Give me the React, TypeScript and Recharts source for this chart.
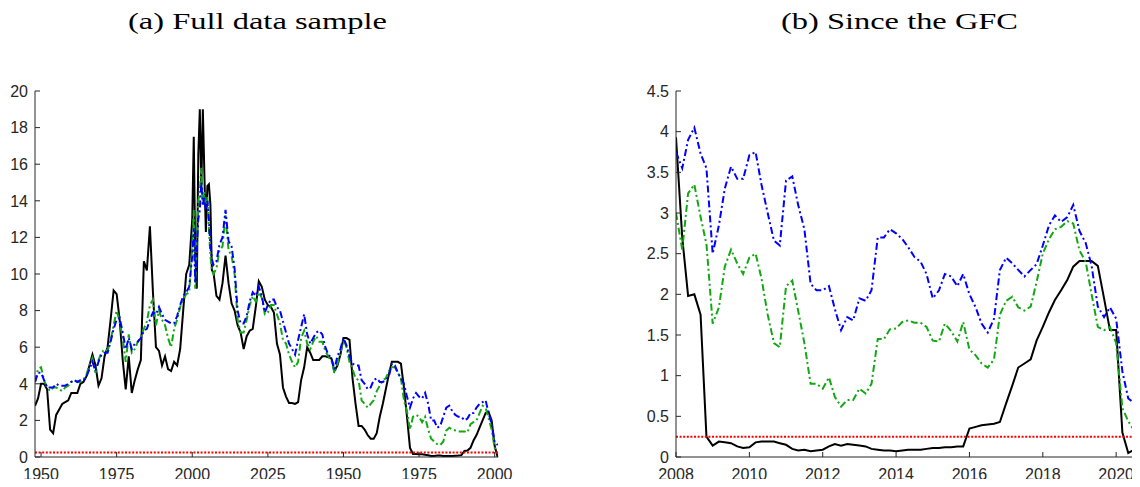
import { LineChart, Line, XAxis, YAxis, ReferenceLine } from "recharts";

// (a) full sample: x positions on the plotting scale (the printed tick labels repeat)
const yearsA = [
  1948, 1949, 1950, 1951, 1952, 1953, 1954, 1955, 1956, 1957,
  1958, 1959, 1960, 1961, 1962, 1963, 1964, 1965, 1966, 1967,
  1968, 1969, 1970, 1971, 1972, 1973, 1974, 1975, 1976, 1977,
  1978, 1979, 1980, 1981, 1982, 1983, 1984, 1985, 1986, 1987,
  1988, 1989, 1990, 1991, 1992, 1993, 1994, 1995, 1996, 1997,
  1998, 1999,
  2000, 2000.5, 2001, 2001.5, 2002, 2002.5, 2003, 2003.5, 2004, 2004.5, 2005, 2005.5, 2006, 2006.5,
  2007, 2008, 2009, 2010, 2011, 2012, 2013, 2014, 2015, 2016,
  2017, 2018, 2019, 2020, 2021, 2022, 2023, 2024, 2025, 2026,
  2027, 2028,
  2029, 2030, 2031, 2032, 2033, 2034, 2035, 2036, 2037, 2038,
  2039, 2040, 2041, 2042, 2043, 2044, 2045, 2046, 2047, 2048,
  2049, 2050, 2051, 2052, 2053, 2054, 2055, 2056, 2057, 2058,
  2059, 2060, 2061, 2062, 2063, 2064, 2065, 2066, 2067, 2068,
  2069, 2070, 2071, 2072, 2073, 2074, 2075, 2076, 2077, 2078,
  2079, 2080, 2081, 2082, 2083, 2084, 2085, 2086, 2087, 2088,
  2089, 2090, 2091, 2092, 2093, 2094, 2095, 2096, 2097, 2098,
  2099, 2100, 2101,
];

const rateA = [
  2.8, 3.2, 4.0, 4.0, 3.7, 1.5, 1.3, 2.3, 2.6, 2.9,
  3.0, 3.1, 3.5, 3.5, 3.5, 4.0, 4.1, 4.4, 5.0, 5.6,
  5.0, 3.9, 4.3, 5.5, 6.0, 7.5, 9.1, 8.9, 7.5, 5.3,
  3.7, 5.5, 3.5, 4.2, 4.8, 5.3, 10.7, 10.2, 12.6, 9.0,
  6.0, 5.8, 5.0, 5.5, 4.8, 4.7, 5.2, 5.0, 5.9, 8.0,
  10.0, 10.5,
  13.0, 17.5, 11.0, 9.2, 16.5, 19.0, 14.7, 19.0, 15.5, 12.3, 14.8, 14.9, 13.8, 10.2,
  10.1, 8.8, 8.6, 9.5, 11.0, 9.5, 8.4, 8.0, 7.2, 6.8,
  5.9, 6.6, 6.9, 7.0, 8.2, 9.6, 9.3, 8.6, 8.3, 8.2,
  7.9, 6.2,
  5.6, 3.8, 3.3, 2.95, 2.95, 2.9, 3.0, 4.2, 4.9, 6.0,
  5.7, 5.3, 5.3, 5.3, 5.5, 5.5, 5.45, 5.4, 4.7, 5.0,
  5.6, 6.5, 6.5, 6.4, 4.3, 2.9, 1.7, 1.7, 1.5, 1.2,
  1.0, 1.0, 1.3, 2.2, 2.9, 3.7, 4.5, 5.2, 5.2, 5.2,
  5.1, 3.8, 2.2, 0.5, 0.17, 0.17, 0.15, 0.15, 0.12, 0.1,
  0.06, 0.06, 0.08, 0.08, 0.06, 0.05, 0.05, 0.06, 0.07, 0.08,
  0.1, 0.33, 0.35, 0.5, 0.9, 1.2, 1.6, 2.0, 2.4, 2.45,
  2.0, 0.6, 0.0,
];

const greenA = [
  4.1, 4.8, 4.9, 4.2, 3.8, 3.6, 3.8, 3.8, 3.7, 3.6,
  3.8, 3.9, 4.1, 4.2, 4.1, 4.1, 4.2, 4.5, 5.0, 5.4,
  4.6, 5.3, 5.7, 5.9, 5.8, 6.4, 7.2, 8.0, 7.4, 6.5,
  5.2, 6.7, 5.7, 5.9, 6.3, 6.6, 7.0, 7.4, 8.3, 8.6,
  7.2, 8.0, 7.5, 7.2, 6.5, 6.0, 7.0, 7.5, 8.2, 8.6,
  8.9, 9.0,
  11.5, 13.5, 9.2, 12.0, 14.0, 14.5, 15.8, 13.8, 14.5, 13.8, 14.2, 12.5, 11.0, 10.2,
  10.0, 10.3, 11.3, 11.5, 13.2, 11.3, 11.0, 10.0, 7.5, 6.8,
  6.8, 7.5, 8.3, 8.8, 8.5, 9.0, 8.7, 7.8, 7.9, 8.3,
  8.3, 7.8,
  7.3, 6.4, 6.2, 5.6, 5.2, 4.9, 5.2, 6.5, 6.9, 6.2,
  5.9, 6.3, 6.6, 6.3, 6.3, 5.8, 5.5, 5.3, 4.6, 5.1,
  5.7, 6.45, 6.0, 5.2, 4.8, 4.3, 4.2, 3.1, 2.9, 2.7,
  2.9, 3.1, 3.6, 3.9, 4.2, 4.3, 4.7, 4.9, 4.9, 4.6,
  4.3, 3.1, 2.5, 1.5, 2.2, 2.3, 2.2, 1.9, 2.2, 1.5,
  1.0, 0.85, 0.7, 0.65, 0.85, 1.45, 1.6, 1.5, 1.45, 1.4,
  1.4, 1.4, 1.35, 1.8, 1.9, 2.0, 2.4, 2.8, 2.7, 2.1,
  1.5, 0.5, 0.2,
];

const blueA = [
  4.1, 4.6, 4.6, 4.2, 3.8, 3.8, 3.8, 4.0, 3.9, 3.9,
  3.9, 4.0, 4.1, 4.2, 4.1, 4.2, 4.2, 4.4, 4.8, 5.2,
  4.7, 5.2, 5.6, 5.7, 5.7, 6.3, 7.0, 7.5, 7.6, 6.8,
  5.9, 6.5, 5.9, 6.2, 6.3, 6.5, 6.9, 7.0, 7.5, 7.9,
  7.8, 8.2, 7.8, 7.5, 7.4, 7.3, 7.3, 7.7, 8.3, 8.8,
  9.0, 9.3,
  11.0, 12.5, 9.5, 11.5, 13.0, 13.5, 15.0, 13.8, 14.2, 13.5, 14.0, 13.0, 11.5, 10.8,
  10.5, 10.7, 11.6, 12.0, 13.5, 11.8, 11.5, 10.3, 8.0, 7.3,
  7.3, 7.7, 8.5, 9.0, 8.8, 9.3, 8.8, 7.9, 8.3, 8.6,
  8.6, 8.2,
  8.0, 7.4, 6.8, 6.2, 5.9, 5.6, 6.4, 7.1, 7.8, 6.7,
  6.2, 6.5, 6.8, 6.9, 6.7, 6.0, 5.6, 5.4, 4.8, 5.5,
  5.9, 6.5, 6.1, 5.5, 5.1, 5.0, 5.0, 4.2, 4.0, 3.7,
  3.8, 4.2, 4.3, 4.1, 4.1, 4.2, 4.4, 5.1, 5.0, 4.6,
  4.3, 4.0, 3.3, 2.7, 3.2, 3.5, 3.3, 3.2, 3.5, 2.9,
  2.0, 2.0, 1.6, 1.7, 2.2, 2.7, 2.8, 2.5, 2.3, 2.2,
  2.2, 2.0, 2.1, 2.4, 2.4, 2.7, 2.9, 3.0, 3.1, 2.4,
  1.8, 0.8, 0.65,
];

const xTicksA = [1950, 1975, 2000, 2025, 2050, 2075, 2100];
const xLabelsA = ["1950", "1975", "2000", "2025", "1950", "1975", "2000"];
const yTicksA = [0, 2, 4, 6, 8, 10, 12, 14, 16, 18, 20];

// (b) since the GFC, two-monthly
const monthsB = [
  2008, 2008.17, 2008.33, 2008.5, 2008.67, 2008.83,
  2009, 2009.17, 2009.33, 2009.5, 2009.67, 2009.83,
  2010, 2010.17, 2010.33, 2010.5, 2010.67, 2010.83,
  2011, 2011.17, 2011.33, 2011.5, 2011.67, 2011.83,
  2012, 2012.17, 2012.33, 2012.5, 2012.67, 2012.83,
  2013, 2013.17, 2013.33, 2013.5, 2013.67, 2013.83,
  2014, 2014.17, 2014.33, 2014.5, 2014.67, 2014.83,
  2015, 2015.17, 2015.33, 2015.5, 2015.67, 2015.83,
  2016, 2016.17, 2016.33, 2016.5, 2016.67, 2016.83,
  2017, 2017.17, 2017.33, 2017.5, 2017.67, 2017.83,
  2018, 2018.17, 2018.33, 2018.5, 2018.67, 2018.83,
  2019, 2019.17, 2019.33, 2019.5, 2019.67, 2019.83,
  2020, 2020.17, 2020.33, 2020.5, 2020.67,
];

const rateB = [
  3.93, 2.7, 1.98, 2.0, 1.75, 0.25,
  0.14, 0.19, 0.18, 0.17, 0.13, 0.11,
  0.12, 0.18, 0.19, 0.19, 0.19, 0.17,
  0.15, 0.1, 0.08, 0.09, 0.07, 0.08,
  0.09, 0.13, 0.16, 0.14, 0.16, 0.15,
  0.14, 0.13, 0.1, 0.09, 0.08, 0.08,
  0.07, 0.08, 0.09, 0.09, 0.09, 0.1,
  0.11, 0.11, 0.12, 0.12, 0.13, 0.13,
  0.35, 0.37, 0.39, 0.4, 0.41, 0.43,
  0.66, 0.88, 1.1, 1.15, 1.2, 1.43,
  1.6, 1.78, 1.93, 2.05, 2.18, 2.34,
  2.41, 2.41, 2.41, 2.35, 1.95, 1.56,
  1.56, 0.3, 0.05, 0.09, 0.1,
];

const greenB = [
  3.0, 2.55, 3.24, 3.35, 2.95, 2.62,
  1.64, 1.84, 2.34, 2.55, 2.38, 2.25,
  2.45, 2.5, 2.2, 1.75, 1.4, 1.35,
  2.1, 2.17, 1.8, 1.4, 0.9, 0.9,
  0.84, 0.98, 0.74, 0.62, 0.7, 0.7,
  0.84, 0.78, 0.9, 1.45, 1.45, 1.57,
  1.58, 1.66, 1.68, 1.65, 1.65, 1.6,
  1.43, 1.42, 1.64, 1.55, 1.42, 1.66,
  1.32, 1.25, 1.15, 1.1, 1.2, 1.75,
  1.92, 1.97, 1.84, 1.8, 1.85, 2.15,
  2.5, 2.68, 2.8, 2.83, 2.9, 2.87,
  2.54, 2.4, 2.0, 1.6, 1.56, 1.6,
  1.4, 0.6, 0.44, 0.32, 0.25,
];

const blueB = [
  3.75, 3.55, 3.9, 4.05, 3.73, 3.55,
  2.5, 2.85, 3.3, 3.57, 3.42, 3.42,
  3.71, 3.75, 3.35, 3.0, 2.66, 2.6,
  3.4, 3.45, 3.1, 2.8, 2.13, 2.05,
  2.05, 2.1, 1.82, 1.56, 1.72, 1.68,
  1.95, 1.92, 2.05, 2.7, 2.7, 2.8,
  2.75, 2.68, 2.58, 2.46, 2.4, 2.25,
  1.95, 2.05, 2.25, 2.22, 2.1, 2.25,
  2.0, 1.84, 1.64, 1.53, 1.7, 2.3,
  2.45, 2.38, 2.3, 2.22, 2.3, 2.37,
  2.6, 2.85, 2.97, 2.89, 2.95, 3.1,
  2.78, 2.63, 2.35, 1.85, 1.72, 1.84,
  1.7, 1.05, 0.72, 0.66, 0.7,
];

const xTicksB = [2008, 2010, 2012, 2014, 2016, 2018, 2020];
const yTicksB = [0, 0.5, 1, 1.5, 2, 2.5, 3, 3.5, 4, 4.5];

const lowerBound = 0.25;

const AXIS = "#262626";
const TICK_FONT = "'Liberation Sans', Arial, Helvetica, sans-serif";

const dataA = yearsA.map((year, i) => ({ year, rate: rateA[i], green: greenA[i], blue: blueA[i] }));
const dataB = monthsB.map((year, i) => ({ year, rate: rateB[i], green: greenB[i], blue: blueB[i] }));

// matlab-style ticks: short marks pointing into the plot
function XTick(props: any) {
  const { x, y, payload, labels, values } = props;
  const i = values ? values.indexOf(payload.value) : -1;
  const label = i >= 0 && labels ? labels[i] : String(payload.value);
  return (
    <g>
      <line x1={x} x2={x} y1={y} y2={y - 5} stroke={AXIS} strokeWidth={1} />
      <text x={x} y={y + 23} textAnchor="middle" fill={AXIS} fontSize={16} fontFamily={TICK_FONT}>
        {label}
      </text>
    </g>
  );
}

function YTick(props: any) {
  const { x, y, payload } = props;
  return (
    <g>
      <line x1={x} x2={x + 5} y1={y} y2={y} stroke={AXIS} strokeWidth={1} />
      <text x={x - 7} y={y} dy="0.36em" textAnchor="end" fill={AXIS} fontSize={16} fontFamily={TICK_FONT}>
        {String(payload.value)}
      </text>
    </g>
  );
}

function Panel({ data, width, margin, xDomain, xTicks, xLabels, yDomain, yTicks }: any) {
  return (
    <LineChart width={width} height={487} data={data} margin={margin}>
      <XAxis
        dataKey="year"
        type="number"
        domain={xDomain}
        ticks={xTicks}
        allowDataOverflow
        height={1}
        tickSize={0}
        tickMargin={0}
        tickLine={false}
        interval={0}
        axisLine={{ stroke: AXIS, strokeWidth: 1 }}
        tick={(p: any) => <XTick {...p} labels={xLabels} values={xTicks} />}
      />
      <YAxis
        type="number"
        domain={yDomain}
        ticks={yTicks}
        allowDataOverflow
        width={1}
        tickSize={0}
        tickMargin={0}
        tickLine={false}
        interval={0}
        axisLine={{ stroke: AXIS, strokeWidth: 1 }}
        tick={(p: any) => <YTick {...p} />}
      />
      <Line dataKey="rate" stroke="#000000" strokeWidth={2} dot={false} isAnimationActive={false} />
      <Line
        dataKey="green"
        stroke="#12a812"
        strokeWidth={2}
        strokeDasharray="7 3 2 3"
        dot={false}
        isAnimationActive={false}
      />
      <Line
        dataKey="blue"
        stroke="#0000ff"
        strokeWidth={2}
        strokeDasharray="7 3 2 3"
        dot={false}
        isAnimationActive={false}
      />
      <ReferenceLine y={lowerBound} stroke="#ff0000" strokeWidth={2} strokeDasharray="2 1.6" />
    </LineChart>
  );
}

export default function App() {
  return (
    <div style={{ position: "relative", width: 1140, height: 487, margin: -8, background: "#ffffff", overflow: "hidden" }}>
      <div style={{ position: "absolute", left: 0, top: 0 }}>
        <Panel
          data={dataA}
          width={520}
          margin={{ top: 91, right: 21.7, bottom: 29, left: 34 }}
          xDomain={[1948, 2101.2]}
          xTicks={xTicksA}
          xLabels={xLabelsA}
          yDomain={[0, 20]}
          yTicks={yTicksA}
        />
      </div>
      <div style={{ position: "absolute", left: 600, top: 0 }}>
        <Panel
          data={dataB}
          width={540}
          margin={{ top: 91, right: 0, bottom: 29, left: 75 }}
          xDomain={[2008, 2020.65]}
          xTicks={xTicksB}
          xLabels={null}
          yDomain={[0, 4.5]}
          yTicks={yTicksB}
        />
      </div>
      <svg width={1140} height={60} style={{ position: "absolute", left: 0, top: 0 }}>
        <text
          x={128}
          y={28.5}
          textLength={259}
          lengthAdjust="spacingAndGlyphs"
          fontSize={24}
          fontFamily="'Liberation Serif', 'Times New Roman', serif"
          fill="#000"
        >
          (a) Full data sample
        </text>
        <text
          x={781}
          y={28.5}
          textLength={237}
          lengthAdjust="spacingAndGlyphs"
          fontSize={24}
          fontFamily="'Liberation Serif', 'Times New Roman', serif"
          fill="#000"
        >
          (b) Since the GFC
        </text>
      </svg>
    </div>
  );
}
